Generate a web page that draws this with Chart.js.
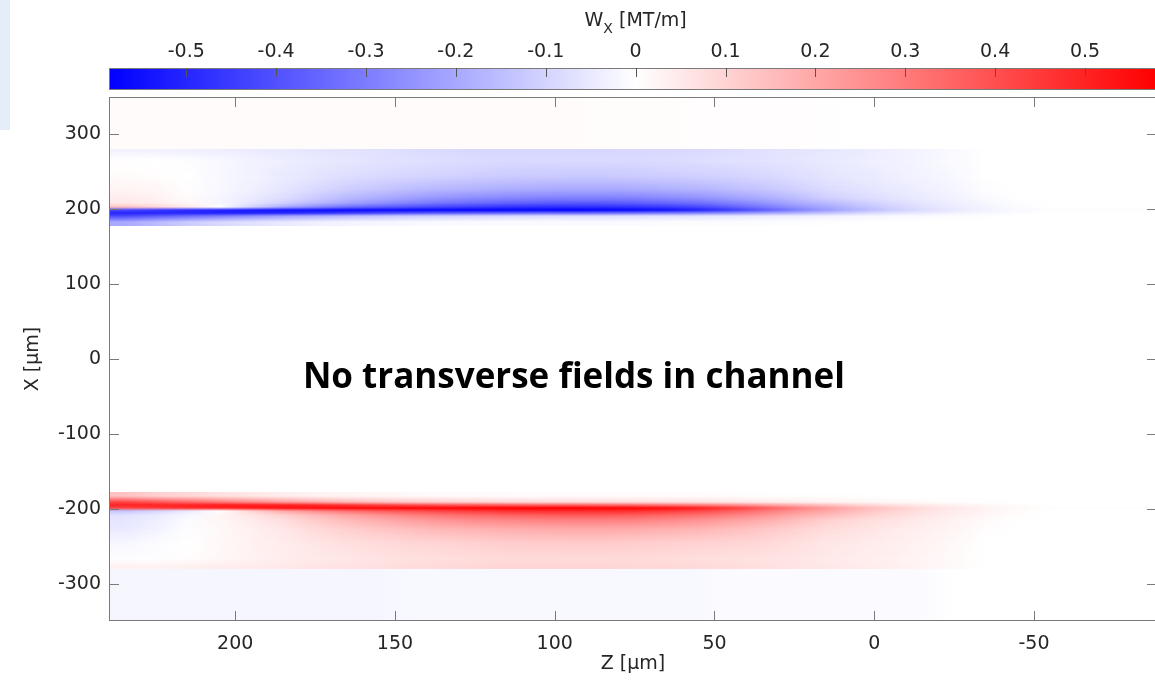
<!DOCTYPE html>
<html>
<head>
<meta charset="utf-8">
<script src="https://cdn.jsdelivr.net/npm/chart.js@4.4.1/dist/chart.umd.min.js"></script>
<style>
    html, body { margin: 0; padding: 0; background: #fff; overflow: hidden; width: 1155px; height: 681px; }
    #wrap { position: relative; width: 1155px; height: 681px; }
    #main, #cbar { position: absolute; left: 0; top: 0; }
    #slideTab { position: absolute; left: 0; top: 0; width: 10px; height: 130px; background: #e4edf8; }
</style>
</head>
<body>
<div id="wrap">
    <div id="slideTab"></div>
    <canvas id="main" width="1170" height="681"></canvas>
    <canvas id="cbar" width="1170" height="97"></canvas>
</div>
<script>
// ── Data ──
const zCenters = [235, 225, 215, 205, 195, 185, 175, 165, 155, 145, 135, 125, 115, 105, 95,
                  85, 75, 65, 55, 45, 35, 25, 15, 5, -5, -15, -25, -35, -45, -55];
const zTicks = [200, 150, 100, 50, 0, -50];
const xTicks = [-300, -200, -100, 0, 100, 200, 300];
const colorTicks = [-0.5, -0.4, -0.3, -0.2, -0.1, 0, 0.1, 0.2, 0.3, 0.4, 0.5];

// row edges in X (µm) for the two field bands and the faint outer tints
const xEdgesUpper = [178, 188, 193, 197, 201, 205, 211, 220, 235, 255, 276, 281];
const xEdgesLower = [-281, -276, -255, -235, -220, -211, -205, -201, -197, -193, -188, -178];
const xEdgesAbove = [281, 350];
const xEdgesBelow = [-350, -281];

// Wx [MT/m], one column per Z centre, rows in ascending X
const wxUpper = [
    [-0.2, -0.42, -0.5, -0.42, 0.14, 0.05, 0.04, 0.025, 0.01, 0.003, -0.03],
    [-0.16, -0.38, -0.5, -0.45, 0.1, 0.04, 0.03, 0.02, 0.005, 0, -0.03],
    [-0.12, -0.34, -0.5, -0.48, 0.05, 0.02, 0.01, 0.005, 0, -0.005, -0.035],
    [-0.09, -0.3, -0.51, -0.5, 0, -0.02, -0.02, -0.015, -0.015, -0.015, -0.04],
    [-0.07, -0.26, -0.51, -0.52, -0.1, -0.06, -0.045, -0.035, -0.03, -0.03, -0.045],
    [-0.05, -0.22, -0.5, -0.54, -0.2, -0.11, -0.075, -0.055, -0.045, -0.04, -0.05],
    [-0.035, -0.19, -0.48, -0.55, -0.27, -0.16, -0.12, -0.085, -0.06, -0.05, -0.06],
    [-0.025, -0.16, -0.45, -0.56, -0.33, -0.21, -0.16, -0.11, -0.075, -0.055, -0.065],
    [-0.02, -0.14, -0.42, -0.56, -0.37, -0.25, -0.19, -0.13, -0.085, -0.065, -0.07],
    [-0.015, -0.12, -0.4, -0.57, -0.4, -0.29, -0.22, -0.15, -0.095, -0.07, -0.08],
    [-0.012, -0.11, -0.38, -0.57, -0.43, -0.32, -0.245, -0.165, -0.1, -0.075, -0.085],
    [-0.012, -0.1, -0.37, -0.58, -0.45, -0.34, -0.265, -0.175, -0.11, -0.08, -0.09],
    [-0.01, -0.09, -0.36, -0.58, -0.47, -0.36, -0.275, -0.185, -0.117, -0.085, -0.095],
    [-0.01, -0.085, -0.35, -0.58, -0.48, -0.37, -0.285, -0.19, -0.12, -0.085, -0.095],
    [-0.01, -0.08, -0.35, -0.585, -0.48, -0.38, -0.29, -0.195, -0.122, -0.085, -0.095],
    [-0.01, -0.08, -0.34, -0.58, -0.48, -0.38, -0.29, -0.195, -0.122, -0.085, -0.095],
    [-0.01, -0.075, -0.33, -0.57, -0.47, -0.37, -0.285, -0.19, -0.118, -0.085, -0.09],
    [-0.008, -0.07, -0.31, -0.55, -0.45, -0.35, -0.27, -0.18, -0.112, -0.08, -0.09],
    [-0.008, -0.065, -0.29, -0.51, -0.42, -0.33, -0.25, -0.17, -0.105, -0.075, -0.085],
    [-0.006, -0.055, -0.26, -0.45, -0.37, -0.29, -0.22, -0.15, -0.1, -0.07, -0.08],
    [-0.005, -0.045, -0.22, -0.38, -0.31, -0.25, -0.19, -0.13, -0.09, -0.065, -0.07],
    [-0.004, -0.038, -0.18, -0.3, -0.25, -0.2, -0.155, -0.105, -0.075, -0.058, -0.062],
    [-0.003, -0.03, -0.14, -0.23, -0.2, -0.16, -0.11, -0.08, -0.06, -0.05, -0.055],
    [-0.002, -0.022, -0.1, -0.17, -0.15, -0.12, -0.085, -0.065, -0.05, -0.042, -0.046],
    [0, -0.015, -0.07, -0.12, -0.105, -0.085, -0.065, -0.05, -0.04, -0.033, -0.036],
    [0, -0.01, -0.05, -0.08, -0.07, -0.058, -0.046, -0.036, -0.028, -0.023, -0.026],
    [0, -0.006, -0.03, -0.05, -0.045, -0.038, -0.03, -0.022, -0.016, -0.012, -0.014],
    [0, -0.003, -0.018, -0.03, -0.026, -0.02, -0.012, -0.005, 0, 0, 0],
    [0, 0, -0.008, -0.014, -0.01, -0.006, 0, 0, 0, 0, 0],
    [0, 0, 0, -0.004, 0, 0, 0, 0, 0, 0, 0]
];
const wxLower = [
    [0.03, -0.005, -0.02, -0.05, -0.06, -0.07, -0.14, 0.42, 0.5, 0.42, 0.14],
    [0.03, -0.003, -0.01, -0.03, -0.04, -0.05, -0.1, 0.45, 0.5, 0.38, 0.11],
    [0.035, 0.005, 0, -0.005, -0.01, -0.02, -0.05, 0.48, 0.5, 0.34, 0.09],
    [0.04, 0.015, 0.015, 0.015, 0.02, 0.02, 0, 0.5, 0.51, 0.3, 0.07],
    [0.045, 0.03, 0.03, 0.035, 0.045, 0.06, 0.1, 0.52, 0.51, 0.26, 0.055],
    [0.05, 0.04, 0.045, 0.055, 0.075, 0.11, 0.2, 0.54, 0.5, 0.22, 0.04],
    [0.06, 0.05, 0.06, 0.085, 0.12, 0.16, 0.27, 0.55, 0.48, 0.19, 0.03],
    [0.065, 0.055, 0.075, 0.11, 0.16, 0.21, 0.33, 0.56, 0.45, 0.16, 0.025],
    [0.07, 0.065, 0.085, 0.13, 0.19, 0.25, 0.37, 0.56, 0.42, 0.14, 0.02],
    [0.08, 0.07, 0.095, 0.15, 0.22, 0.29, 0.4, 0.57, 0.4, 0.12, 0.015],
    [0.085, 0.075, 0.1, 0.165, 0.245, 0.32, 0.43, 0.57, 0.38, 0.11, 0.012],
    [0.09, 0.08, 0.11, 0.175, 0.265, 0.34, 0.45, 0.575, 0.37, 0.1, 0.012],
    [0.095, 0.085, 0.117, 0.185, 0.275, 0.36, 0.47, 0.579, 0.36, 0.09, 0.01],
    [0.095, 0.085, 0.12, 0.19, 0.285, 0.37, 0.48, 0.579, 0.35, 0.085, 0.01],
    [0.095, 0.085, 0.122, 0.195, 0.29, 0.38, 0.48, 0.579, 0.35, 0.08, 0.01],
    [0.095, 0.085, 0.122, 0.195, 0.29, 0.38, 0.48, 0.575, 0.34, 0.08, 0.01],
    [0.09, 0.085, 0.118, 0.19, 0.285, 0.37, 0.47, 0.57, 0.33, 0.075, 0.01],
    [0.09, 0.08, 0.112, 0.18, 0.27, 0.35, 0.45, 0.55, 0.31, 0.07, 0.008],
    [0.085, 0.075, 0.105, 0.17, 0.25, 0.33, 0.42, 0.51, 0.29, 0.065, 0.008],
    [0.08, 0.07, 0.1, 0.15, 0.22, 0.29, 0.37, 0.45, 0.26, 0.055, 0.006],
    [0.07, 0.065, 0.09, 0.13, 0.19, 0.25, 0.31, 0.38, 0.22, 0.045, 0.005],
    [0.062, 0.058, 0.075, 0.105, 0.155, 0.2, 0.25, 0.3, 0.18, 0.038, 0.004],
    [0.055, 0.05, 0.06, 0.08, 0.11, 0.16, 0.2, 0.23, 0.14, 0.03, 0.003],
    [0.046, 0.042, 0.05, 0.065, 0.085, 0.12, 0.15, 0.17, 0.1, 0.022, 0.002],
    [0.036, 0.033, 0.04, 0.05, 0.065, 0.085, 0.105, 0.12, 0.07, 0.015, 0],
    [0.026, 0.023, 0.028, 0.036, 0.046, 0.058, 0.07, 0.08, 0.05, 0.01, 0],
    [0.014, 0.012, 0.016, 0.022, 0.03, 0.038, 0.045, 0.05, 0.03, 0.006, 0],
    [0, 0, 0, 0.005, 0.012, 0.02, 0.026, 0.03, 0.018, 0.003, 0],
    [0, 0, 0, 0, 0, 0.006, 0.01, 0.014, 0.008, 0, 0],
    [0, 0, 0, 0, 0, 0, 0, 0.004, 0, 0, 0]
];
// faint tint outside the bands
const wxAbove = [0.008, 0.008, 0.008, 0.008, 0.008, 0.008, 0.008, 0.008, 0.008, 0.008, 0.008, 0.008, 0.008, 0.008, 0.008,
                 0.006, 0.006, 0.006, 0.005, 0.005, 0.004, 0.004, 0.003, 0, 0, 0, 0, 0, 0, 0];
const wxBelow = [-0.02, -0.02, -0.02, -0.02, -0.02, -0.02, -0.02, -0.02, -0.02, -0.015, -0.015, -0.015, -0.015, -0.015, -0.015,
                 -0.015, -0.015, -0.015, -0.015, -0.01, -0.01, -0.01, -0.01, -0.01, -0.01, -0.01, 0, 0, 0, 0];

const annotationText = 'No transverse fields in channel';

// ── Axis ranges & style ──
const Z_MIN = -88.5, Z_MAX = 239.5;
const X_MIN = -350, X_MAX = 350;
const C_MIN = -0.586, C_MAX = 0.579;
const TEXT = '#262626';
const AXIS = '#7a7a7a';
const FONT = { family: "'DejaVu Sans', sans-serif", size: 19 };

// blue → white → red colormap
function wxColor(v) {
    if (v < 0) {
        const c = Math.round(255 * (1 - Math.min(1, v / C_MIN)));
        return `rgb(${c},${c},255)`;
    }
    const c = Math.round(255 * (1 - Math.min(1, v / C_MAX)));
    return `rgb(255,${c},${c})`;
}

// ── Plugin: heatmap rows, shaded between the cell centres (like "shading interp") ──
const heatmapPlugin = {
    id: 'heatmap',
    beforeDatasetsDraw(chart) {
        const { ctx, chartArea: a, scales: { x, y } } = chart;
        const w = a.right - a.left;
        const off = document.createElement('canvas');
        off.width = chart.canvas.width;
        off.height = chart.canvas.height;
        const octx = off.getContext('2d');
        octx.setTransform(ctx.getTransform());

        // horizontal gradient through one row's cells
        const rowGrad = (c, cols, j) => {
            const g = c.createLinearGradient(a.left, 0, a.right, 0);
            cols.forEach((col, i) => {
                const p = (x.getPixelForValue(zCenters[i]) - a.left) / w;
                g.addColorStop(Math.min(1, Math.max(0, p)), wxColor(col[j]));
            });
            return g;
        };

        ctx.save();
        ctx.beginPath();
        ctx.rect(a.left, a.top, w, a.bottom - a.top);
        ctx.clip();

        const drawBand = (cols, edges) => {
            const n = edges.length - 1;
            const centres = [];
            for (let j = 0; j < n; j++) {
                const top = Math.round(y.getPixelForValue(edges[j + 1]));
                const bot = Math.round(y.getPixelForValue(edges[j]));
                centres.push(Math.round(y.getPixelForValue((edges[j] + edges[j + 1]) / 2)));
                ctx.fillStyle = rowGrad(ctx, cols, j);
                ctx.fillRect(a.left, top, w, bot - top);
            }
            // blend each row into the next between their centres
            for (let j = 0; j < n - 1; j++) {
                const y0 = centres[j], y1 = centres[j + 1];
                if (y0 - y1 < 1) continue;
                ctx.fillStyle = rowGrad(ctx, cols, j);
                ctx.fillRect(a.left, y1, w, y0 - y1);
                octx.globalCompositeOperation = 'source-over';
                octx.clearRect(0, 0, off.width, off.height);
                octx.fillStyle = rowGrad(octx, cols, j + 1);
                octx.fillRect(a.left, y1, w, y0 - y1);
                octx.globalCompositeOperation = 'destination-in';
                const fade = octx.createLinearGradient(0, y0, 0, y1);
                fade.addColorStop(0, 'rgba(0,0,0,0)');
                fade.addColorStop(1, 'rgba(0,0,0,1)');
                octx.fillStyle = fade;
                octx.fillRect(a.left, y1, w, y0 - y1);
                ctx.save();
                ctx.setTransform(1, 0, 0, 1, 0, 0);
                ctx.drawImage(off, 0, 0);
                ctx.restore();
            }
        };
        drawBand(wxAbove.map(v => [v]), xEdgesAbove);
        drawBand(wxBelow.map(v => [v]), xEdgesBelow);
        drawBand(wxUpper, xEdgesUpper);
        drawBand(wxLower, xEdgesLower);
        ctx.restore();
    },
    afterDatasetsDraw(chart) {
        // box + inward tick marks on all four sides
        const { ctx, chartArea: a, scales: { x, y } } = chart;
        ctx.save();
        ctx.strokeStyle = AXIS;
        ctx.lineWidth = 1;
        ctx.strokeRect(a.left + 0.5, a.top + 0.5, a.right - a.left - 1, a.bottom - a.top - 1);
        ctx.beginPath();
        zTicks.forEach(z => {
            const px = Math.round(x.getPixelForValue(z)) + 0.5;
            ctx.moveTo(px, a.bottom); ctx.lineTo(px, a.bottom - 10);
            ctx.moveTo(px, a.top); ctx.lineTo(px, a.top + 10);
        });
        xTicks.forEach(v => {
            const py = Math.round(y.getPixelForValue(v)) + 0.5;
            ctx.moveTo(a.left, py); ctx.lineTo(a.left + 10, py);
            ctx.moveTo(a.right, py); ctx.lineTo(a.right - 10, py);
        });
        ctx.stroke();

        // annotation in data coordinates
        ctx.fillStyle = '#000';
        ctx.font = "bold 35px 'Open Sans', sans-serif";
        ctx.textAlign = 'center';
        ctx.textBaseline = 'middle';
        ctx.fillText(annotationText, x.getPixelForValue(94), y.getPixelForValue(-26));
        ctx.restore();
    }
};

// ── Plugin: colour bar strip ──
const colorbarPlugin = {
    id: 'colorbar',
    beforeDatasetsDraw(chart) {
        const { ctx, chartArea: a, scales: { x } } = chart;
        ctx.save();
        const grad = ctx.createLinearGradient(a.left, 0, a.right, 0);
        const mid = (x.getPixelForValue(0) - a.left) / (a.right - a.left);
        grad.addColorStop(0, wxColor(C_MIN));
        grad.addColorStop(mid, '#ffffff');
        grad.addColorStop(1, wxColor(C_MAX));
        ctx.fillStyle = grad;
        ctx.fillRect(a.left, a.top, a.right - a.left, a.bottom - a.top);
        ctx.strokeStyle = AXIS;
        ctx.lineWidth = 1;
        ctx.strokeRect(a.left + 0.5, a.top + 0.5, a.right - a.left - 1, a.bottom - a.top - 1);
        ctx.beginPath();
        colorTicks.forEach(v => {
            const px = Math.round(x.getPixelForValue(v)) + 0.5;
            ctx.moveTo(px, a.top); ctx.lineTo(px, a.top + 9);
        });
        ctx.strokeStyle = '#555';
        ctx.stroke();

        // title: W with subscript X
        const cx = x.getPixelForValue(0);
        const base = 26;
        ctx.fillStyle = TEXT;
        ctx.textBaseline = 'alphabetic';
        ctx.textAlign = 'left';
        const big = "19px 'DejaVu Sans', sans-serif";
        const small = "14px 'DejaVu Sans', sans-serif";
        ctx.font = big; const wW = ctx.measureText('W').width;
        const wRest = ctx.measureText(' [MT/m]').width;
        ctx.font = small; const wSub = ctx.measureText('X').width;
        let px = cx - (wW + wSub + wRest) / 2;
        ctx.font = big; ctx.fillText('W', px, base); px += wW;
        ctx.font = small; ctx.fillText('X', px, base + 7); px += wSub;
        ctx.font = big; ctx.fillText(' [MT/m]', px, base);
        ctx.restore();
    }
};

const setTicks = list => scale => { scale.ticks = list.map(v => ({ value: v })); };

new Chart(document.getElementById('main'), {
    type: 'scatter',
    data: { datasets: [{ data: [] }] },
    options: {
        responsive: false,
        animation: false,
        layout: { padding: { left: 0, right: 13, top: 97, bottom: 0 } },
        plugins: { legend: { display: false }, tooltip: { enabled: false } },
        scales: {
            x: {
                type: 'linear', position: 'bottom', reverse: true, min: Z_MIN, max: Z_MAX,
                afterBuildTicks: setTicks(zTicks),
                afterFit: s => { s.height = 60; },
                ticks: { color: TEXT, font: FONT, padding: 12, maxRotation: 0 },
                title: { display: true, text: 'Z [μm]', color: TEXT, font: FONT, padding: { top: 0, bottom: 6 } },
                grid: { display: false, drawTicks: false },
                border: { display: false }
            },
            y: {
                type: 'linear', position: 'left', min: X_MIN, max: X_MAX,
                afterBuildTicks: setTicks(xTicks),
                afterFit: s => { s.width = 109; },
                ticks: { color: TEXT, font: FONT, padding: 8 },
                title: { display: true, text: 'X [μm]', color: TEXT, font: FONT, padding: { top: 22, bottom: 0 } },
                grid: { display: false, drawTicks: false },
                border: { display: false }
            }
        }
    },
    plugins: [heatmapPlugin]
});

new Chart(document.getElementById('cbar'), {
    type: 'scatter',
    data: { datasets: [{ data: [] }] },
    options: {
        responsive: false,
        animation: false,
        layout: { padding: { left: 109, right: 14, top: 0, bottom: 7 } },
        plugins: { legend: { display: false }, tooltip: { enabled: false } },
        scales: {
            x: {
                type: 'linear', position: 'top', min: C_MIN, max: C_MAX,
                afterBuildTicks: setTicks(colorTicks),
                afterFit: s => { s.height = 68; },
                ticks: { color: TEXT, font: FONT, padding: 5, maxRotation: 0, callback: v => String(v) },
                grid: { display: false, drawTicks: false },
                border: { display: false }
            },
            y: { display: false, min: 0, max: 1 }
        }
    },
    plugins: [colorbarPlugin]
});
</script>
</body>
</html>
